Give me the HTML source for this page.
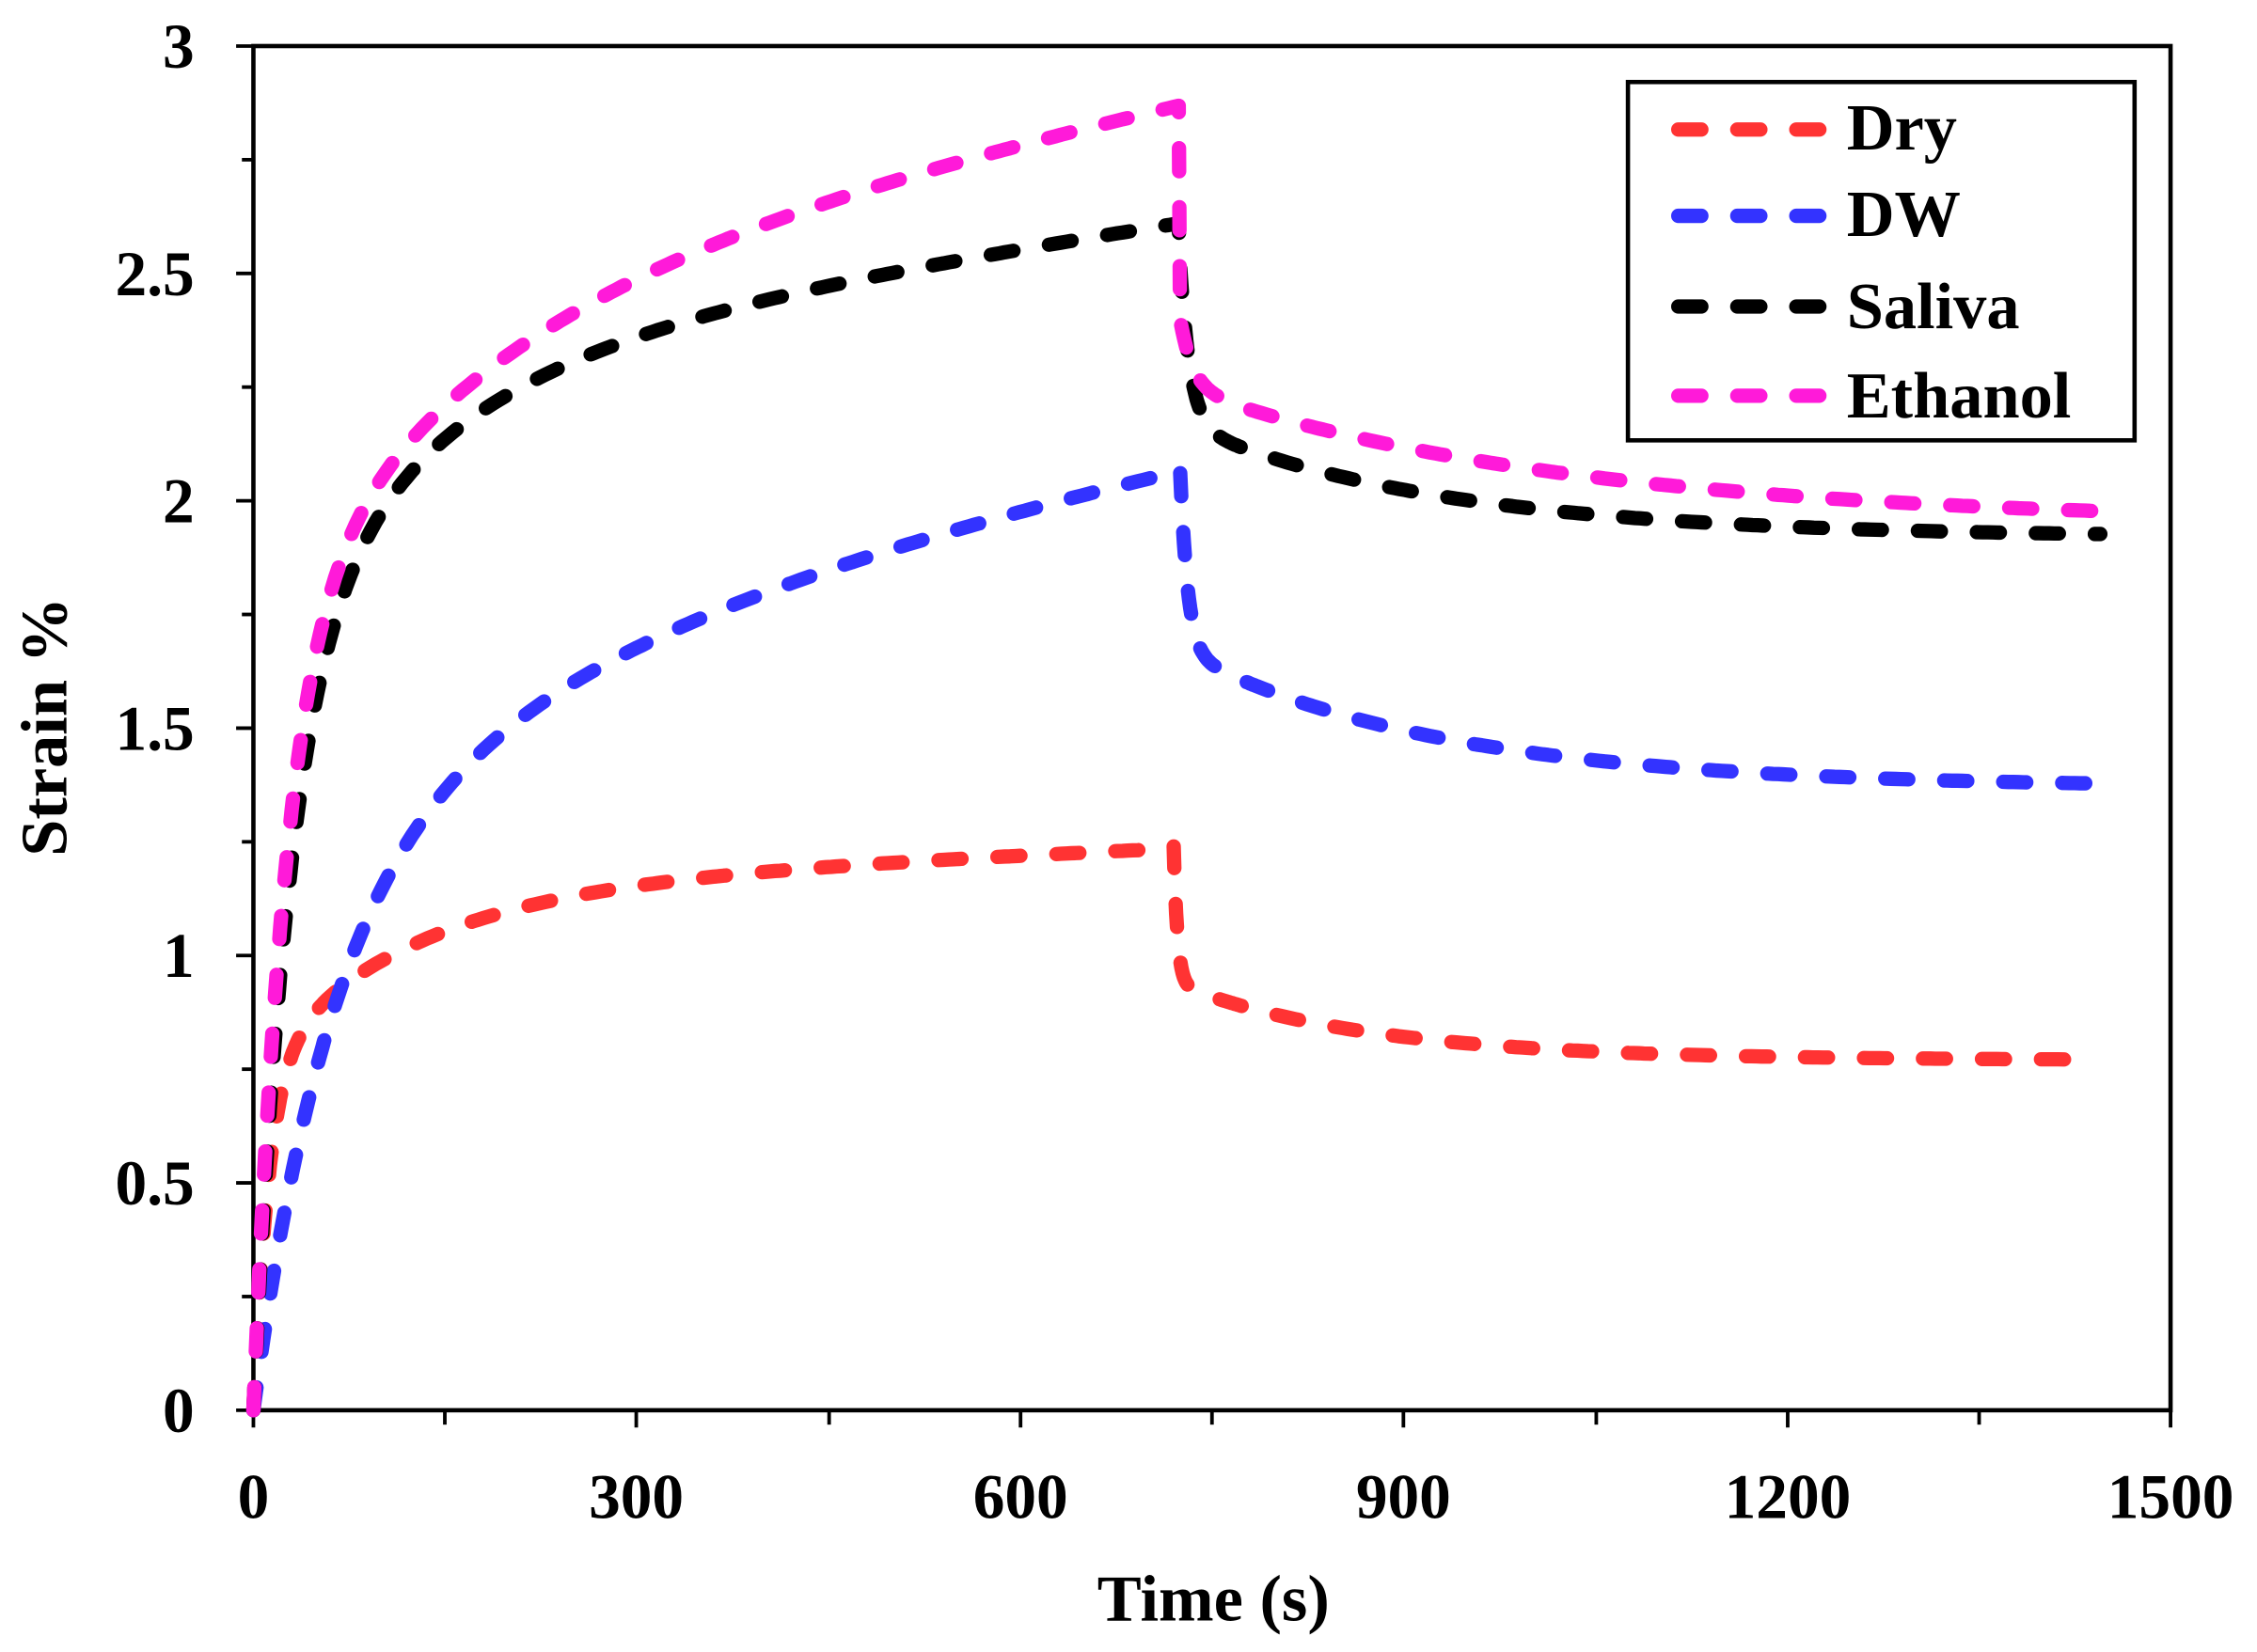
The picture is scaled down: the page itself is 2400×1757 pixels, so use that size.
<!DOCTYPE html>
<html><head><meta charset="utf-8"><style>
html,body{margin:0;padding:0;background:#fff;}
svg{display:block;}
text{font-family:"Liberation Serif",serif;font-weight:bold;fill:#000;}
</style></head><body>
<svg width="2400" height="1757" viewBox="0 0 1568 1148" xmlns="http://www.w3.org/2000/svg">
<rect x="0" y="0" width="1568" height="1148" fill="#fff"/>
<rect x="176" y="32" width="1332" height="948" fill="none" stroke="#000" stroke-width="3"/>
<g stroke="#000" stroke-width="2.5">
<line x1="176" y1="980" x2="176" y2="992"/><line x1="309" y1="980" x2="309" y2="990"/>
<line x1="442" y1="980" x2="442" y2="992"/><line x1="576" y1="980" x2="576" y2="990"/>
<line x1="709" y1="980" x2="709" y2="992"/><line x1="842" y1="980" x2="842" y2="990"/>
<line x1="975" y1="980" x2="975" y2="992"/><line x1="1109" y1="980" x2="1109" y2="990"/>
<line x1="1242" y1="980" x2="1242" y2="992"/><line x1="1375" y1="980" x2="1375" y2="990"/>
<line x1="1508" y1="980" x2="1508" y2="992"/>
<line x1="164" y1="980" x2="176" y2="980"/><line x1="168" y1="901" x2="176" y2="901"/>
<line x1="164" y1="822" x2="176" y2="822"/><line x1="168" y1="743" x2="176" y2="743"/>
<line x1="164" y1="664" x2="176" y2="664"/><line x1="168" y1="585" x2="176" y2="585"/>
<line x1="164" y1="506" x2="176" y2="506"/><line x1="168" y1="427" x2="176" y2="427"/>
<line x1="164" y1="348" x2="176" y2="348"/><line x1="168" y1="269" x2="176" y2="269"/>
<line x1="164" y1="190" x2="176" y2="190"/><line x1="168" y1="111" x2="176" y2="111"/>
<line x1="164" y1="32" x2="176" y2="32"/>
</g>
<g font-size="44" text-anchor="end">
<text x="135" y="995">0</text><text x="135" y="837">0.5</text><text x="135" y="679">1</text>
<text x="135" y="521">1.5</text><text x="135" y="363">2</text><text x="135" y="205">2.5</text>
<text x="135" y="47">3</text>
</g>
<g font-size="44" text-anchor="middle">
<text x="176" y="1055">0</text><text x="442" y="1055">300</text><text x="709" y="1055">600</text>
<text x="975" y="1055">900</text><text x="1242" y="1055">1200</text><text x="1508" y="1055">1500</text>
</g>
<text x="843" y="1126" font-size="46" text-anchor="middle">Time (s)</text>
<text transform="translate(46,505) rotate(-90)" font-size="46" text-anchor="middle">Strain %</text>
<g fill="none" stroke-width="10" stroke-linecap="round" stroke-linejoin="round" stroke-dasharray="16 25">
<path id="pdry" stroke="#ff3333" d=""/>
<path id="pdw" stroke="#3333ff" d=""/>
<path id="psal" stroke="#000" d=""/>
<path id="peth" stroke="#ff1ad9" d=""/>
</g>
<rect x="1131" y="57" width="352" height="249" fill="#fff" stroke="#000" stroke-width="3"/>
<g stroke-width="10" stroke-linecap="round" stroke-dasharray="16 25">
<line x1="1166" y1="90" x2="1270" y2="90" stroke="#ff3333"/>
<line x1="1166" y1="150" x2="1270" y2="150" stroke="#3333ff"/>
<line x1="1166" y1="213" x2="1270" y2="213" stroke="#000"/>
<line x1="1166" y1="275" x2="1270" y2="275" stroke="#ff1ad9"/>
</g>
<g font-size="46">
<text x="1283" y="104">Dry</text><text x="1283" y="164">DW</text>
<text x="1283" y="228">Saliva</text><text x="1283" y="290">Ethanol</text>
</g>
</svg>
<script>
function X(t){return 176+t*0.888;}
function Y(v){return 980-316*v;}
function build(id,p){
  var te=p.te,d=[],t,v;
  for(t=0;t<=te;t+=(t<60?1:4)){
    v=p.A*(1-Math.exp(-t/p.t1))+p.B*(1-Math.exp(-t/p.t2))+p.C*t;
    d.push((d.length?'L':'M')+X(t).toFixed(1)+','+Y(v).toFixed(1));
  }
  for(t=te;t<=1446;t+=(t<te+60?1:4)){
    var s=t-te;
    v=p.R+p.D*Math.exp(-s/p.s1)+p.E*Math.exp(-s/p.s2);
    d.push('L'+X(t).toFixed(1)+','+Y(v).toFixed(1));
  }
  document.getElementById(id).setAttribute('d',d.join(''));
}
build('pdry',{te:720,A:0.75,t1:12,B:0.4,t2:120,C:0.00012,R:0.77,D:0.3,s1:3,E:0.17,s2:150});
build('pdw',{te:725,A:1.1,t1:60,B:0.6,t2:250,C:0.00055,R:1.37,D:0.4,s1:6,E:0.3,s2:200});
build('psal',{te:725,A:1.6,t1:28,B:0.7,t2:130,C:0.000432,R:1.92,D:0.35,s1:8,E:0.25,s2:200});
build('peth',{te:725,A:1.7,t1:25,B:0.75,t2:180,C:0.000597,R:1.95,D:0.15,s1:10,E:0.3,s2:300});
</script>
</body></html>
